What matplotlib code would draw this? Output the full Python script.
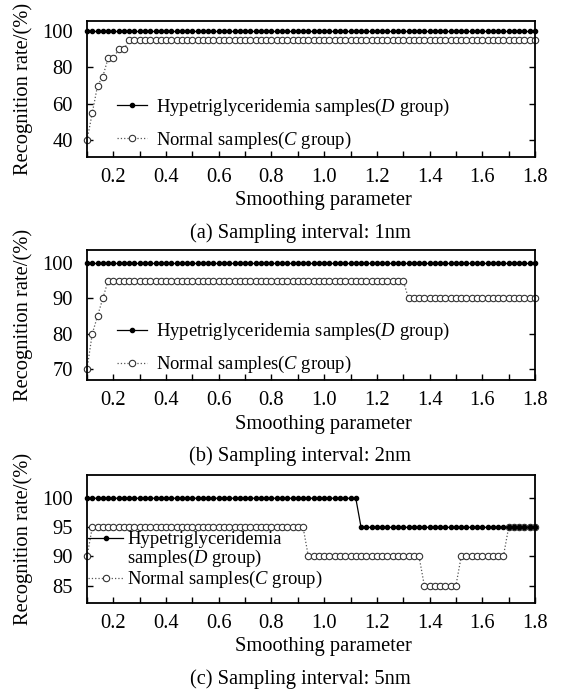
import matplotlib
matplotlib.use("Agg")
import matplotlib.pyplot as plt
from matplotlib.ticker import MultipleLocator
import numpy as np

plt.rcParams['font.family'] = ['Liberation Serif', 'DejaVu Serif']
plt.rcParams['mathtext.fontset'] = 'custom'
plt.rcParams['mathtext.it'] = 'Liberation Serif:italic'
plt.rcParams['mathtext.rm'] = 'Liberation Serif'

# smoothing parameter grid (0.10 .. 1.80, step 0.02)
x = np.linspace(0.10, 1.80, 86)

# (a) sampling interval 1nm
d_a = [100] * 86
c_a = [40, 55, 70, 75, 85, 85, 90, 90] + [95] * 78

# (b) sampling interval 2nm
d_b = [100] * 86
c_b = [70, 80, 85, 90] + [95] * 57 + [90] * 25

# (c) sampling interval 5nm
d_c = [100] * 52 + [95] * 34
c_c = [90] + [95] * 41 + [90] * 22 + [85] * 7 + [90] * 9 + [95] * 6

ylims = [(30.8, 105.5), (66.9, 103.7), (82, 104)]
yticks = [[40, 60, 80, 100], [70, 80, 90, 100], [85, 90, 95, 100]]
captions = ["(a) Sampling interval: 1nm", "(b) Sampling interval: 2nm",
            "(c) Sampling interval: 5nm"]
lab_d = "Hypetriglyceridemia samples($D$ group)"
lab_c = "Normal samples($C$ group)"

W, H = 567, 695
fig = plt.figure(figsize=(W / 100, H / 100), dpi=100)

# axes boxes in pixels: (top, bottom)
boxes = [(21, 157), (250, 380), (475, 603)]
left, right = 87, 535
fs = 14.8
lfs = 13.4

axes = []
for (top, bot) in boxes:
    ax = fig.add_axes([left / W, 1 - bot / H, (right - left) / W, (bot - top) / H])
    axes.append(ax)

data = [(d_a, c_a), (d_b, c_b), (d_c, c_c)]
for i, ax in enumerate(axes):
    d, c = data[i]
    ld, = ax.plot(x, d, '-', color='black', lw=0.9, marker='o', ms=3.0,
                  mfc='black', mec='black', clip_on=False, zorder=3)
    lc, = ax.plot(x, c, ':', color='#555555', lw=0.9, marker='o', ms=4.6,
                  mfc='white', mec='#333333', mew=0.8, clip_on=False, zorder=2)
    ax.set_xlim(0.1, 1.8)
    ax.set_ylim(*ylims[i])
    ax.set_yticks(yticks[i])
    ax.xaxis.set_major_locator(MultipleLocator(0.2))
    ax.xaxis.set_minor_locator(MultipleLocator(0.1))
    ax.set_xticks([0.2, 0.4, 0.6, 0.8, 1.0, 1.2, 1.4, 1.6, 1.8])
    ax.tick_params(which='both', direction='in', length=4, width=1,
                   top=False, right=True, labelsize=fs, pad=8)
    ax.tick_params(axis='y', pad=10)
    for s in ax.spines.values():
        s.set_linewidth(1.3)

    top, bot = boxes[i]
    fig.text(23 / W, 1 - (top + bot) / 2 / H, "Recognition rate/(%)",
             rotation=90, ha='center', va='center', fontsize=fs)
    fig.text(323 / W, 1 - (bot + 44) / H, "Smoothing parameter",
             ha='center', va='center', fontsize=fs)
    fig.text(300 / W, 1 - (bot + 76) / H, captions[i],
             ha='center', va='center', fontsize=fs)

    if i < 2:
        ax.legend([ld, lc], [lab_d, lab_c], loc='center left',
                  bbox_to_anchor=(0.068, 0.245), frameon=False, fontsize=lfs,
                  handlelength=1.6, handletextpad=0.45, labelspacing=0.65,
                  borderpad=0, borderaxespad=0)
    else:
        blank, = ax.plot([], [], color='none')
        ax.legend([ld, blank, lc],
                  ["Hypetriglyceridemia", "samples($D$ group)", lab_c],
                  loc='center left', bbox_to_anchor=(0.002, 0.33),
                  frameon=False, fontsize=lfs, handlelength=1.9,
                  handletextpad=0.2, labelspacing=0.0,
                  borderpad=0, borderaxespad=0)

fig.savefig("out.png", dpi=100)
